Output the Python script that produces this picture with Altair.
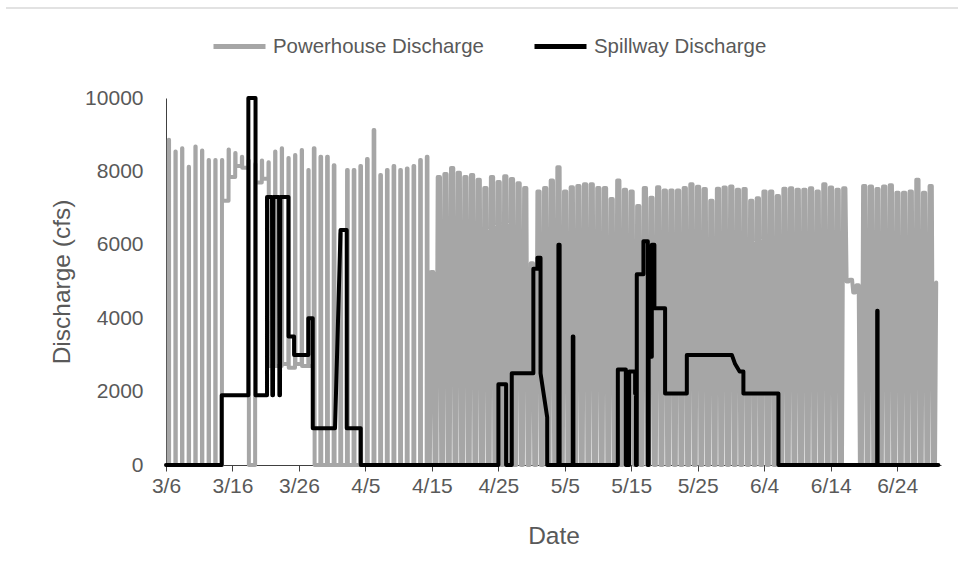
import json
import altair as alt
import pandas as pd

# ---- data -------------------------------------------------------------
# Day 0 = 3/6. Powerhouse discharge: daily peak and the level it falls back to.
PH_PEAK = [
    8860, 8540, 8630, 8130, 8680, 8570, 8310, 8310, 8310, 8600,
    8500, 8400, 8300, 8200, 8300, 8250, 8540, 8630, 8365, 8450,
    8580, 8040, 8630, 8400, 8400, 8170, 6300, 8040, 8040, 8150,
    8340, 9130, 7900, 8040, 8150, 8040, 8080, 8150, 8310, 8400,
    5260, 7850, 7930, 8090, 7960, 7850, 7900, 7770, 7550, 7850,
    7710, 7870, 7790, 7680, 7550, 5500, 7450, 7550, 7750, 8110,
    7450, 7570, 7600, 7650, 7650, 7550, 7550, 7250, 7750, 7500,
    7450, 7060, 7550, 7280, 7570, 7480, 7480, 7480, 7550, 7650,
    7580, 7520, 7200, 7530, 7560, 7590, 7500, 7520, 7200, 7270,
    7450, 7450, 7330, 7530, 7540, 7500, 7500, 7540, 7450, 7650,
    7560, 7500, 7540, 5050, 4900, 7600, 7590, 7520, 7590, 7620,
    7420, 7420, 7450, 7770, 7420, 7600, 4970,
]
PH_LOW = (
    [0] * 8
    + [7200, 7850, 8150, 8100, 0, 7700, 7800]
    + [2700, 2700, 2750, 2650, 2750, 2700, 2700]
    + [0] * 80
    + [5000, 4700, 0]
    + [0] * 12
)

# Spillway discharge: (day, cfs) vertices
SP_DAY = [
    0, 8.38, 8.38, 12.39, 12.39, 13.47, 13.47, 15.20, 15.20, 15.95,
    16.0, 16.1, 16.15, 17.01, 17.06, 17.15, 17.20, 18.43, 18.43, 19.27,
    19.27, 21.41, 21.41, 22.08, 22.08, 25.43, 26.26, 27.19, 27.19, 29.30,
    29.30, 50.01, 50.01, 51.17, 51.17, 52.02, 52.02, 55.27, 55.27, 55.88,
    55.88, 56.35, 56.35, 57.35, 57.35, 59.04, 59.04, 59.22, 59.22, 61.20,
    61.20, 61.29, 61.29, 67.98, 67.98, 69.18, 69.18, 69.68, 69.68, 70.58,
    70.58, 70.70, 70.70, 70.83, 70.83, 71.83, 71.83, 72.49, 72.49, 72.62,
    72.62, 73.09, 73.09, 73.48, 73.48, 75.09, 75.09, 78.36, 78.36, 85.13,
    85.63, 86.30, 86.87, 86.87, 92.14, 92.14, 107.0, 107.0, 107.06, 107.06,
    116.2,
]
SP_CFS = [
    0, 0, 1900, 1900, 10000, 10000, 1900, 1900, 7300, 7300,
    1900, 1900, 7300, 7300, 1900, 1900, 7300, 7300, 3500, 3500,
    3000, 3000, 4000, 4000, 1000, 1000, 6400, 6400, 1000, 1000,
    0, 0, 2200, 2200, 0, 0, 2500, 2500, 5350, 5350,
    5650, 5650, 2500, 1300, 0, 0, 6000, 6000, 0, 0,
    3500, 3500, 0, 0, 2600, 2600, 0, 0, 2550, 2550,
    1950, 1950, 0, 0, 5200, 5200, 6100, 6100, 0, 0,
    2950, 2950, 6000, 6000, 4270, 4270, 1950, 1950, 3000, 3000,
    2750, 2550, 2550, 1950, 1950, 0, 0, 4200, 4200, 0,
    0,
]

TICK_DAYS = [0, 10, 20, 30, 40, 50, 60, 70, 80, 90, 100, 110]
TICK_LABELS = ["3/6", "3/16", "3/26", "4/5", "4/15", "4/25",
               "5/5", "5/15", "5/25", "6/4", "6/14", "6/24"]
Y_TICKS = [0, 2000, 4000, 6000, 8000, 10000]
SERIES = ["Powerhouse Discharge", "Spillway Discharge"]


# ---- build the powerhouse trace: one peaking cycle per day -------------
def cycle_times(d):
    """Fractions of the day for start of ramp-up, peak start, peak end, ramp-down end."""
    if d <= 21:
        return (0.41, 0.42, 0.46, 0.47)
    if d <= 39:
        return (0.22, 0.24, 0.34, 0.36)
    return (-0.30, -0.12, 0.22, 0.40)


ph_rows = []
for d, (peak, low) in enumerate(zip(PH_PEAK, PH_LOW)):
    a, b, c, e = cycle_times(d)
    prev_low = PH_LOW[d - 1] if d > 0 else low
    pts = [(d + a, prev_low), (d + b, peak), (d + c, peak), (d + e, low)]
    if d == len(PH_PEAK) - 1:
        pts = pts[:2]
    ph_rows.extend(pts)

ph = pd.DataFrame(ph_rows, columns=["day", "cfs"])
ph["i"] = range(len(ph))
ph["series"] = SERIES[0]

sp = pd.DataFrame({"day": SP_DAY, "cfs": SP_CFS})
sp["i"] = range(len(sp))
sp["series"] = SERIES[1]

# ---- styling ----------------------------------------------------------
FONT = "Liberation Sans, Arial, sans-serif"
TEXT = "#595959"
AXIS_LINE = "#404040"

x_enc = alt.X(
    "day:Q",
    scale=alt.Scale(domain=[0, 116.6], nice=False, zero=False),
    axis=alt.Axis(
        values=TICK_DAYS,
        labelExpr=f"{json.dumps(TICK_LABELS)}[round(datum.value / 10)]",
        title="Date",
        grid=False,
        domainColor=AXIS_LINE,
        domainWidth=1,
        tickColor=AXIS_LINE,
        tickSize=6,
        labelFont=FONT,
        labelFontSize=21,
        labelColor=TEXT,
        labelPadding=4,
        labelFlush=False,
        labelOverlap=False,
        titleFont=FONT,
        titleFontSize=24.5,
        titleFontWeight="normal",
        titleColor=TEXT,
        titleX=387.5,
        titleY=71,
        titleAlign="center",
        titleBaseline="middle",
    ),
)
y_enc = alt.Y(
    "cfs:Q",
    scale=alt.Scale(domain=[0, 10000], nice=False),
    axis=alt.Axis(
        values=Y_TICKS,
        format="d",
        title="Discharge (cfs)",
        grid=False,
        ticks=False,
        tickSize=0,
        domainColor=AXIS_LINE,
        domainWidth=1,
        labelFont=FONT,
        labelFontSize=21,
        labelColor=TEXT,
        labelPadding=23,
        titleFont=FONT,
        titleFontSize=24.5,
        titleFontWeight="normal",
        titleColor=TEXT,
        titleAngle=270,
        titleX=-104,
        titleY=183.5,
        titleAlign="center",
        titleBaseline="middle",
    ),
)
color_enc = alt.Color(
    "series:N",
    scale=alt.Scale(domain=SERIES, range=["#a6a6a6", "#000000"]),
    title=None,
    legend=alt.Legend(
        orient="none",
        legendX=45,
        legendY=-80,
        direction="horizontal",
        columns=2,
        symbolType="stroke",
        symbolSize=2704,
        symbolStrokeWidth=5,
        labelFont=FONT,
        labelFontSize=20.4,
        labelColor=TEXT,
        labelLimit=400,
        labelOffset=5,
        columnPadding=40,
        padding=0,
    ),
)

powerhouse = alt.Chart(ph).mark_line(
    strokeWidth=4, strokeJoin="round", strokeCap="round"
).encode(x=x_enc, y=y_enc, color=color_enc, order="i:Q")

spillway = alt.Chart(sp).mark_line(
    strokeWidth=4, strokeJoin="round", strokeCap="round"
).encode(x="day:Q", y="cfs:Q", color=color_enc, order="i:Q")

frame_line = alt.Chart(alt.Data(values=[{}])).mark_rule(
    color="#d9d9d9", strokeWidth=1.5
).encode(x=alt.value(-160), x2=alt.value(792), y=alt.value(-90))

chart = (
    alt.layer(frame_line, powerhouse, spillway)
    .properties(
        width=775,
        height=367,
        autosize=alt.AutoSizeParams(type="none"),
        padding={"left": 166, "top": 98, "right": 17, "bottom": 112},
    )
    .configure_view(stroke=None)
)

chart.save("out.html", embed_options={"renderer": "svg", "actions": False})
